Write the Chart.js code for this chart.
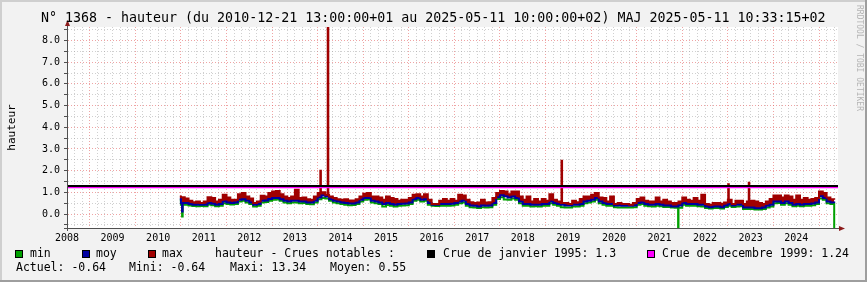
<!DOCTYPE html>
<html>
<head>
<meta charset="utf-8">
<script src="https://cdn.jsdelivr.net/npm/chart.js@4/dist/chart.umd.min.js"></script>
<style>
  html, body { margin: 0; padding: 0; background: #f2f2f2; }
  canvas { display: block; }
</style>
</head>
<body>
<canvas id="hauteurChart" width="867" height="282"></canvas>
<script>
// x axis unit: months counted from January 2008 (0 = 2008-01)
const dataStartMonth = 35.7; // 2010-12-21
const yearLabels = ["2008", "2009", "2010", "2011", "2012", "2013", "2014", "2015", "2016",
  "2017", "2018", "2019", "2020", "2021", "2022", "2023", "2024"];

// monthly max / moy / min, first value = start point, then Jan 2011 .. May 2025
const maxVals = [0.81,
  0.78, 0.72, 0.62, 0.55, 0.58, 0.51, 0.58, 0.78, 0.74, 0.58, 0.66, 0.89,
  0.76, 0.66, 0.66, 0.92, 0.97, 0.81, 0.72, 0.51, 0.58, 0.84, 0.81, 0.97,
  1.04, 1.07, 0.92, 0.81, 0.74, 0.81, 1.12, 0.74, 0.76, 0.68, 0.66, 0.81,
  0.97, 1.01, 0.89, 0.81, 0.74, 0.69, 0.66, 0.69, 0.63, 0.63, 0.69, 0.81,
  0.94, 0.97, 0.81, 0.81, 0.76, 0.66, 0.81, 0.74, 0.70, 0.61, 0.66, 0.66,
  0.74, 0.89, 0.92, 0.81, 0.92, 0.66, 0.46, 0.46, 0.61, 0.70, 0.61, 0.70,
  0.61, 0.89, 0.86, 0.66, 0.55, 0.51, 0.54, 0.66, 0.54, 0.55, 0.74, 0.97,
  1.07, 1.04, 0.92, 1.04, 1.04, 0.81, 0.66, 0.81, 0.58, 0.70, 0.58, 0.70,
  0.61, 0.92, 0.66, 0.58, 0.51, 0.51, 0.46, 0.61, 0.55, 0.70, 0.81, 0.81,
  0.89, 0.97, 0.76, 0.74, 0.58, 0.81, 0.46, 0.51, 0.46, 0.46, 0.43, 0.51,
  0.70, 0.76, 0.61, 0.58, 0.58, 0.76, 0.58, 0.66, 0.58, 0.51, 0.51, 0.58,
  0.76, 0.66, 0.61, 0.74, 0.61, 0.89, 0.46, 0.43, 0.51, 0.51, 0.48, 0.54,
  0.66, 0.46, 0.61, 0.61, 0.46, 0.58, 0.61, 0.58, 0.51, 0.46, 0.58, 0.70,
  0.86, 0.86, 0.76, 0.86, 0.81, 0.66, 0.86, 0.66, 0.74, 0.66, 0.70, 0.74,
  1.04, 0.97, 0.76, 0.69, 0.66];

const moyVals = [0.70,
  0.51, 0.51, 0.46, 0.43, 0.43, 0.43, 0.43, 0.51, 0.48, 0.43, 0.46, 0.58,
  0.54, 0.51, 0.54, 0.66, 0.69, 0.61, 0.54, 0.43, 0.46, 0.61, 0.63, 0.70,
  0.74, 0.74, 0.69, 0.61, 0.58, 0.61, 0.61, 0.58, 0.58, 0.54, 0.54, 0.61,
  0.76, 0.86, 0.81, 0.69, 0.61, 0.58, 0.54, 0.51, 0.49, 0.49, 0.54, 0.66,
  0.74, 0.74, 0.61, 0.58, 0.54, 0.46, 0.51, 0.46, 0.43, 0.46, 0.48, 0.49,
  0.54, 0.69, 0.74, 0.66, 0.69, 0.51, 0.43, 0.43, 0.46, 0.46, 0.46, 0.48,
  0.51, 0.58, 0.61, 0.46, 0.40, 0.38, 0.35, 0.40, 0.38, 0.40, 0.51, 0.78,
  0.87, 0.82, 0.76, 0.81, 0.74, 0.58, 0.46, 0.46, 0.43, 0.43, 0.43, 0.46,
  0.46, 0.58, 0.51, 0.46, 0.43, 0.40, 0.40, 0.43, 0.43, 0.46, 0.58, 0.61,
  0.66, 0.74, 0.58, 0.51, 0.46, 0.46, 0.40, 0.40, 0.38, 0.38, 0.38, 0.40,
  0.51, 0.54, 0.46, 0.43, 0.43, 0.46, 0.43, 0.40, 0.40, 0.35, 0.35, 0.40,
  0.51, 0.46, 0.46, 0.46, 0.43, 0.43, 0.35, 0.32, 0.35, 0.35, 0.32, 0.40,
  0.46, 0.40, 0.43, 0.43, 0.30, 0.30, 0.30, 0.27, 0.27, 0.30, 0.38, 0.43,
  0.58, 0.58, 0.51, 0.58, 0.51, 0.43, 0.46, 0.43, 0.46, 0.46, 0.49, 0.54,
  0.82, 0.74, 0.58, 0.54, 0.51];

const minVals = [0.64,
  0.43, 0.43, 0.40, 0.37, 0.36, 0.37, 0.36, 0.44, 0.41, 0.36, 0.39, 0.50,
  0.47, 0.44, 0.46, 0.58, 0.61, 0.54, 0.46, 0.35, 0.38, 0.53, 0.56, 0.62,
  0.66, 0.67, 0.61, 0.54, 0.50, 0.53, 0.54, 0.50, 0.51, 0.46, 0.45, 0.53,
  0.68, 0.74, 0.72, 0.61, 0.53, 0.50, 0.46, 0.43, 0.41, 0.42, 0.46, 0.58,
  0.66, 0.67, 0.53, 0.50, 0.46, 0.35, 0.42, 0.38, 0.35, 0.38, 0.40, 0.41,
  0.46, 0.61, 0.66, 0.58, 0.61, 0.43, 0.38, 0.37, 0.39, 0.39, 0.38, 0.40,
  0.43, 0.50, 0.53, 0.38, 0.32, 0.30, 0.28, 0.32, 0.30, 0.32, 0.43, 0.70,
  0.78, 0.67, 0.66, 0.72, 0.66, 0.50, 0.38, 0.38, 0.35, 0.36, 0.35, 0.38,
  0.39, 0.50, 0.43, 0.38, 0.32, 0.30, 0.31, 0.35, 0.35, 0.38, 0.50, 0.53,
  0.58, 0.66, 0.50, 0.43, 0.38, 0.38, 0.32, 0.31, 0.30, 0.30, 0.30, 0.32,
  0.43, 0.46, 0.38, 0.36, 0.35, 0.38, 0.36, 0.33, 0.33, 0.30, 0.29, 0.31,
  0.43, 0.38, 0.38, 0.39, 0.36, 0.35, 0.28, 0.26, 0.28, 0.28, 0.26, 0.33,
  0.38, 0.33, 0.35, 0.36, 0.24, 0.23, 0.23, 0.21, 0.21, 0.23, 0.30, 0.35,
  0.50, 0.51, 0.43, 0.50, 0.43, 0.36, 0.38, 0.36, 0.38, 0.38, 0.41, 0.46,
  0.72, 0.66, 0.50, 0.46, -0.64];

// short events (month, value) for each series
const maxSpikeMonths = [72.7, 74.65, 136.2, 180.1, 185.5];
const maxSpikeVals = [2.0, 13.34, 2.46, 1.38, 1.44];
const moySpikeMonths = [36.3];
const moySpikeVals = [0.12];
const minSpikeMonths = [36.3, 166.9];
const minSpikeVals = [-0.11, -0.64];

// reference floods
const crueNames = ["Crue de janvier 1995: 1.3", "Crue de decembre 1999: 1.24"];
const crueLevels = [1.3, 1.24];
const crueColors = ["#000000", "#ff00ff"];

const statsTexts = ["Actuel: -0.64", "Mini: -0.64", "Maxi: 13.34", "Moyen: 0.55"];

const X_MIN = 6, X_MAX = 209;
const Y_MIN = -0.64, Y_MAX = 8.62;
const MONO = '"DejaVu Sans Mono", monospace';
const C_MIN = "#00a000", C_MOY = "#0000a0", C_MAX = "#a00000";
const GRID_MAJOR = "rgba(225, 90, 90, 0.55)";
const GRID_MINOR = "rgba(150, 150, 150, 0.45)";
const AXIS = "#505050";

const months = minVals.map((_, i) => (i === 0 ? dataStartMonth : 35 + i));

function buildPoints(vals, spikeMonths, spikeVals) {
  const pts = vals.map((v, i) => ({ x: months[i], y: v }));
  spikeMonths.forEach((m, k) => {
    let i = 0;
    while (i + 1 < months.length && months[i + 1] <= m) i++;
    pts.push({ x: m, y: spikeVals[k] }, { x: m + 0.15, y: vals[i] });
  });
  return pts.sort((a, b) => a.x - b.x);
}

const xTicks = [];
for (let m = X_MIN; m <= 208; m += 2) xTicks.push(m);
const yTicks = [];
for (let k = -1; k <= 17; k++) yTicks.push(k / 2);

const rrdDecor = {
  id: "rrdDecor",
  beforeDraw(chart) {
    const { ctx, chartArea: a, width, height } = chart;
    ctx.save();
    ctx.fillStyle = "#f2f2f2";
    ctx.fillRect(0, 0, width, height);
    ctx.fillStyle = "#ffffff";
    ctx.fillRect(a.left, a.top, a.right - a.left, a.bottom - a.top);
    ctx.fillStyle = "#cfcfcf";
    ctx.fillRect(0, 0, width, 2);
    ctx.fillRect(0, 0, 2, height);
    ctx.fillStyle = "#9e9e9e";
    ctx.fillRect(0, height - 2, width, 2);
    ctx.fillRect(width - 2, 0, 2, height);
    ctx.restore();
  },
  afterDraw(chart) {
    const { ctx, chartArea: a } = chart;
    ctx.save();
    // axis extensions and arrows
    ctx.strokeStyle = AXIS;
    ctx.lineWidth = 1;
    ctx.beginPath();
    ctx.moveTo(a.left + 0.5, a.top - 4);
    ctx.lineTo(a.left + 0.5, a.bottom + 3);
    ctx.moveTo(a.left - 3, a.bottom + 0.5);
    ctx.lineTo(a.right + 3, a.bottom + 0.5);
    ctx.stroke();
    ctx.fillStyle = "#8b1a1a";
    ctx.beginPath();
    ctx.moveTo(a.left - 2, a.top - 1);
    ctx.lineTo(a.left + 3, a.top - 1);
    ctx.lineTo(a.left + 0.5, a.top - 7);
    ctx.closePath();
    ctx.fill();
    ctx.beginPath();
    ctx.moveTo(a.right + 1, a.bottom - 2);
    ctx.lineTo(a.right + 1, a.bottom + 3);
    ctx.lineTo(a.right + 7, a.bottom + 0.5);
    ctx.closePath();
    ctx.fill();

    // title
    ctx.fillStyle = "#000";
    ctx.textBaseline = "middle";
    ctx.textAlign = "left";
    ctx.font = "13.3px " + MONO;
    ctx.fillText("N\u00b0 1368 - hauteur (du 2010-12-21 13:00:00+01 au 2025-05-11 10:00:00+02) MAJ 2025-05-11 10:33:15+02", 41, 19);

    // legend
    ctx.font = "11.5px " + MONO;
    const box = (x, c) => {
      ctx.fillStyle = c;
      ctx.fillRect(x, 250, 8, 8);
      ctx.strokeStyle = "#000";
      ctx.strokeRect(x + 0.5, 250.5, 7, 7);
      ctx.fillStyle = "#000";
    };
    const row1 = [[15, C_MIN, 30, "min"], [82, C_MOY, 96, "moy"], [148, C_MAX, 162, "max"],
      [null, null, 215, "hauteur - Crues notables :"],
      [427, crueColors[0], 443, crueNames[0]], [647, crueColors[1], 662, crueNames[1]]];
    row1.forEach(([bx, c, tx, t]) => {
      if (bx !== null) box(bx, c);
      ctx.fillText(t, tx, 254.5);
    });
    [16, 129, 230, 330].forEach((tx, i) => ctx.fillText(statsTexts[i], tx, 268.5));

    // vertical credit
    ctx.translate(855, 5);
    ctx.rotate(Math.PI / 2);
    ctx.font = "8px " + MONO;
    ctx.fillStyle = "#b5b5b5";
    ctx.textBaseline = "bottom";
    ctx.fillText("RRDTOOL / TOBI OETIKER", 0, 0);
    ctx.restore();
  }
};

new Chart(document.getElementById("hauteurChart"), {
  type: "line",
  data: {
    datasets: [
      { label: "max", data: buildPoints(maxVals, maxSpikeMonths, maxSpikeVals), borderColor: C_MAX,
        backgroundColor: C_MAX, borderWidth: 2, stepped: true, pointRadius: 0, fill: "+1", order: 0 },
      { label: "moy", data: buildPoints(moyVals, moySpikeMonths, moySpikeVals), borderColor: C_MOY,
        borderWidth: 2, stepped: true, pointRadius: 0, fill: false, order: 1 },
      { label: "min", data: buildPoints(minVals, minSpikeMonths, minSpikeVals), borderColor: C_MIN,
        borderWidth: 2, stepped: true, pointRadius: 0, fill: false, order: 2 },
      { label: crueNames[0], data: [{ x: X_MIN, y: crueLevels[0] }, { x: X_MAX, y: crueLevels[0] }],
        borderColor: crueColors[0], borderWidth: 2, pointRadius: 0, fill: false, order: -2 },
      { label: crueNames[1], data: [{ x: X_MIN, y: crueLevels[1] }, { x: X_MAX, y: crueLevels[1] }],
        borderColor: crueColors[1], borderWidth: 2, pointRadius: 0, fill: false, order: -1 }
    ]
  },
  options: {
    responsive: false,
    animation: false,
    layout: { padding: { top: 27, right: 29, left: 0, bottom: 0 } },
    plugins: {
      legend: { display: false },
      tooltip: { enabled: false },
      filler: { drawTime: "beforeDatasetsDraw" }
    },
    scales: {
      x: {
        type: "linear",
        min: X_MIN,
        max: X_MAX,
        afterFit: s => { s.height = 54; },
        afterBuildTicks: s => { s.ticks = xTicks.map(v => ({ value: v })); },
        grid: {
          color: c => (c.tick && c.tick.value % 12 === 0 ? GRID_MAJOR : GRID_MINOR),
          drawTicks: false
        },
        border: { display: true, color: AXIS, dash: [1, 2] },
        ticks: {
          autoSkip: false,
          maxRotation: 0,
          padding: 4,
          color: "#000",
          font: { family: MONO, size: 10 },
          callback: v => (v % 12 === 6 ? yearLabels[(v - 6) / 12] : "")
        }
      },
      y: {
        min: Y_MIN,
        max: Y_MAX,
        afterFit: s => { s.width = 67; },
        afterBuildTicks: s => { s.ticks = yTicks.map(v => ({ value: v })); },
        grid: {
          color: c => (c.tick && Number.isInteger(c.tick.value) ? GRID_MAJOR : GRID_MINOR),
          drawTicks: true,
          tickLength: 3,
          tickColor: AXIS
        },
        border: { display: true, color: AXIS, dash: [1, 2] },
        ticks: {
          autoSkip: false,
          padding: 4,
          color: "#000",
          font: { family: MONO, size: 10 },
          callback: v => (Number.isInteger(v) ? v.toFixed(1) : "")
        },
        title: {
          display: true,
          text: "hauteur",
          color: "#000",
          font: { family: MONO, size: 11 },
          padding: { top: 6, bottom: 0 }
        }
      }
    }
  },
  plugins: [rrdDecor]
});
</script>
</body>
</html>
